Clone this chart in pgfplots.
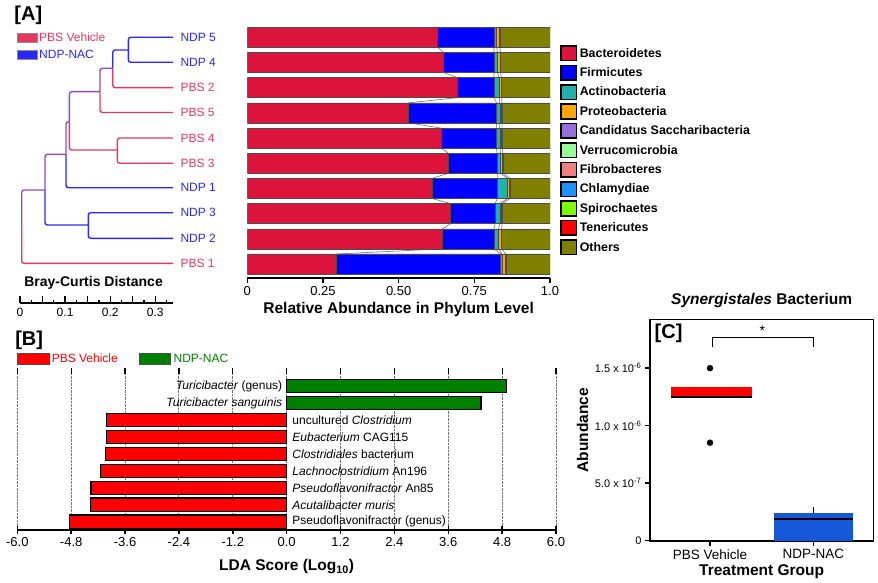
\documentclass[border=0pt]{standalone}
\usepackage{pgfplots}
\pgfplotsset{compat=1.18}
\usepackage{pgfplotstable}
\usepackage{fontspec}
\setmainfont{Liberation Sans}
\newcommand\fs[1]{\fontsize{#1}{#1}\selectfont}
\definecolor{dR}{RGB}{226,58,94}
\definecolor{dB}{RGB}{40,40,250}
\definecolor{dP}{RGB}{150,70,200}
\definecolor{cBact}{RGB}{220,20,60}
\definecolor{cFirm}{RGB}{0,0,255}
\definecolor{cActi}{RGB}{32,178,170}
\definecolor{cProt}{RGB}{255,165,0}
\definecolor{cCand}{RGB}{147,112,219}
\definecolor{cVerr}{RGB}{152,251,152}
\definecolor{cFibr}{RGB}{240,128,128}
\definecolor{cChla}{RGB}{30,144,255}
\definecolor{cSpir}{RGB}{124,252,0}
\definecolor{cTene}{RGB}{255,0,0}
\definecolor{cOthe}{RGB}{128,128,0}
\definecolor{lRed}{RGB}{255,0,0}
\definecolor{lGreen}{RGB}{0,128,0}
\definecolor{bBlue}{RGB}{22,86,217}
\pgfplotsset{
  sqlegend/.style={legend image code/.code={\draw[##1, draw=black, line width=1.6pt, sharp corners] (0pt,-7.3pt) rectangle (15.6pt,7.3pt);}},
  bblegend/.style={legend image code/.code={\draw[##1, draw=black!70, line width=0.8pt, sharp corners] (0pt,-5.5pt) rectangle (31pt,5.5pt);}},
  dlegend/.style={legend image code/.code={\draw[##1, draw=black!45, line width=0.6pt, sharp corners] (0pt,-4.8pt) rectangle (20pt,4.8pt);}},
}
\pgfplotstableread{
y b f a p c v o
10 0.629 0.186 0.009 0.009 0.001 0.001 0.165
9 0.648 0.167 0.011 0.008 0.001 0.001 0.164
8 0.694 0.121 0.017 0.006 0.001 0.001 0.160
7 0.532 0.292 0.010 0.006 0.001 0.001 0.158
6 0.640 0.182 0.012 0.006 0.001 0.001 0.158
5 0.664 0.162 0.011 0.006 0.001 0.001 0.155
4 0.610 0.216 0.034 0.006 0.001 0.001 0.132
3 0.672 0.147 0.015 0.006 0.001 0.001 0.158
2 0.645 0.170 0.015 0.008 0.001 0.001 0.160
1 0.295 0.542 0.004 0.011 0.001 0.001 0.146
}\phylum
\pgfplotstableread{
y b f a o
10.397 .629 .815 .824 .835
9.603 .629 .815 .824 .835
9.397 .648 .815 .826 .836
8.603 .648 .815 .826 .836
8.397 .694 .815 .832 .840
7.603 .694 .815 .832 .840
7.397 .532 .824 .834 .842
6.603 .532 .824 .834 .842
6.397 .640 .822 .834 .842
5.603 .640 .822 .834 .842
5.397 .664 .826 .837 .845
4.603 .664 .826 .837 .845
4.397 .610 .826 .860 .868
3.603 .610 .826 .860 .868
3.397 .672 .819 .834 .842
2.603 .672 .819 .834 .842
2.397 .645 .815 .830 .840
1.603 .645 .815 .830 .840
1.397 .295 .837 .841 .854
0.603 .295 .837 .841 .854
}\flows
\begin{document}
\begin{tikzpicture}
\path[use as bounding box] (0pt,0pt) rectangle (878pt,-583pt);
\node[font=\bfseries\fs{20}] at (28.3pt,-15pt) {[A]};
\node[font=\bfseries\fs{20}] at (29.2pt,-340pt) {[B]};

% ---------- dendrogram ----------
\begin{axis}[at={(0pt,-275pt)}, anchor=south west, scale only axis,
  width=180pt, height=255pt, xmin=0, xmax=180, ymin=-275, ymax=-20,
  axis lines=none, clip=false,
  legend cell align=left,
  legend style={at={(axis description cs:0.094,0.957)}, anchor=north west,
    draw=none, fill=none, inner sep=0pt, row sep=4pt, font=\fs{12},
    nodes={inner sep=1.5pt}},
  every axis plot/.append style={line width=1.4pt, rounded corners=2.5pt}]
\addlegendimage{dlegend, fill=dR}\addlegendentry{\textcolor{dR}{PBS Vehicle}}
\addlegendimage{dlegend, fill=dB}\addlegendentry{\textcolor{dB}{NDP-NAC}}
\addplot[dB] coordinates {(128.3,-50)(128.3,-37.3)(173,-37.3)};
\addplot[dB] coordinates {(128.3,-50)(128.3,-62.3)(173,-62.3)};
\addplot[dB] coordinates {(112.7,-68.3)(112.7,-50)(128.3,-50)};
\addplot[dR] coordinates {(112.7,-68.3)(112.7,-87.7)(173,-87.7)};
\addplot[dP] coordinates {(100,-91.7)(100,-68.3)(112.7,-68.3)};
\addplot[dR] coordinates {(100,-91.7)(100,-112.5)(173,-112.5)};
\addplot[dR] coordinates {(117.3,-150)(117.3,-138)(173,-138)};
\addplot[dR] coordinates {(117.3,-150)(117.3,-163.3)(173,-163.3)};
\addplot[dP] coordinates {(69.3,-121.7)(69.3,-91.7)(100,-91.7)};
\addplot[dR] coordinates {(69.3,-121.7)(69.3,-150)(117.3,-150)};
\addplot[dP] coordinates {(66,-154.3)(66,-121.7)(69.3,-121.7)};
\addplot[dB] coordinates {(66,-154.3)(66,-187.7)(173,-187.7)};
\addplot[dB] coordinates {(88.3,-225)(88.3,-212.7)(173,-212.7)};
\addplot[dB] coordinates {(88.3,-225)(88.3,-238.3)(173,-238.3)};
\addplot[dP] coordinates {(45,-190)(45,-154.3)(66,-154.3)};
\addplot[dB] coordinates {(45,-190)(45,-225)(88.3,-225)};
\addplot[dP] coordinates {(21.7,-226.7)(21.7,-190)(45,-190)};
\addplot[dR] coordinates {(21.7,-226.7)(21.7,-263.3)(173,-263.3)};
\begin{scope}[every node/.style={anchor=west, font=\fs{12}}]
\node[text=dB] at (axis cs:177,-37.3) {NDP 5};
\node[text=dB] at (axis cs:177,-62.3) {NDP 4};
\node[text=dR] at (axis cs:177,-87.7) {PBS 2};
\node[text=dR] at (axis cs:177,-112.5) {PBS 5};
\node[text=dR] at (axis cs:177,-138) {PBS 4};
\node[text=dR] at (axis cs:177,-163.3) {PBS 3};
\node[text=dB] at (axis cs:177,-187.7) {NDP 1};
\node[text=dB] at (axis cs:177,-212.7) {NDP 3};
\node[text=dB] at (axis cs:177,-238.3) {NDP 2};
\node[text=dR] at (axis cs:177,-263.3) {PBS 1};
\end{scope}
\end{axis}

% ---------- Bray-Curtis scale ----------
\begin{axis}[at={(20pt,-303pt)}, anchor=south west, scale only axis,
  width=153.3pt, height=10pt, xmin=0, xmax=0.34, ymin=0, ymax=1,
  axis x line*=bottom, axis y line=none, x axis line style={-, line width=1.6pt},
  xtick={0,0.1,0.2,0.3}, xticklabels={0,0.1,0.2,0.3},
  extra x ticks={0.05,0.15,0.25}, extra x tick labels={},
  minor xtick={0.025,0.075,0.125,0.175,0.225,0.275,0.325},
  tick align=inside, major tick length=7pt, minor tick length=3pt,
  tick style={line width=1.3pt, black},
  xticklabel style={font=\fs{12}, anchor=north, yshift=-1.5pt},
  xlabel={Bray-Curtis Distance},
  xlabel style={font=\bfseries\fs{14}, at={(axis description cs:0.48,2.0)}, anchor=center}]
\end{axis}

% ---------- flow lines ----------
\begin{axis}[at={(247.3pt,-278pt)}, anchor=south west, scale only axis,
  width=302.7pt, height=253.3pt, xmin=0, xmax=1, ymin=0.444, ymax=10.5,
  axis lines=none]
\addplot[black!55, line width=0.6pt] table[x=b, y=y] {\flows};
\addplot[black!55, line width=0.6pt] table[x=f, y=y] {\flows};
\addplot[black!55, line width=0.6pt] table[x=a, y=y] {\flows};
\addplot[black!55, line width=0.6pt] table[x=o, y=y] {\flows};
\end{axis}

% ---------- stacked bars ----------
\begin{axis}[at={(247.3pt,-278pt)}, anchor=south west, scale only axis,
  width=302.7pt, height=253.3pt, xmin=0, xmax=1, ymin=0.444, ymax=10.5,
  xbar stacked, bar width=20pt,
  axis x line*=bottom, axis y line=none, x axis line style={-, line width=2pt},
  xtick={0,0.25,0.5,0.75,1}, xticklabels={0,0.25,0.50,0.75,1.0},
  tick align=outside, major tick length=5pt, tick style={line width=1.5pt, black},
  xticklabel style={font=\fs{13}},
  xlabel={Relative Abundance in Phylum Level},
  xlabel style={font=\bfseries\fs{15.5}, at={(axis description cs:0.5,-0.126)}, anchor=center},
  legend cell align=left,
  legend style={at={(axis description cs:1.033,0.92)}, anchor=north west,
    draw=none, fill=none, inner sep=0pt, row sep=3.2pt, font=\bfseries\fs{12.4},
    nodes={inner sep=2.4pt}},
  every axis plot/.append style={draw=black!70, line width=0.5pt}]
\addplot[fill=cBact, sqlegend] table[x=b, y=y] {\phylum}; \addlegendentry{Bacteroidetes}
\addplot[fill=cFirm, sqlegend] table[x=f, y=y] {\phylum}; \addlegendentry{Firmicutes}
\addplot[fill=cActi, sqlegend] table[x=a, y=y] {\phylum}; \addlegendentry{Actinobacteria}
\addplot[fill=cProt, sqlegend] table[x=p, y=y] {\phylum}; \addlegendentry{Proteobacteria}
\addplot[fill=cCand, sqlegend] table[x=c, y=y] {\phylum}; \addlegendentry{Candidatus Saccharibacteria}
\addplot[fill=cVerr, sqlegend] table[x=v, y=y] {\phylum}; \addlegendentry{Verrucomicrobia}
\addlegendimage{fill=cFibr, sqlegend}\addlegendentry{Fibrobacteres}
\addlegendimage{fill=cChla, sqlegend}\addlegendentry{Chlamydiae}
\addlegendimage{fill=cSpir, sqlegend}\addlegendentry{Spirochaetes}
\addlegendimage{fill=cTene, sqlegend}\addlegendentry{Tenericutes}
\addplot[fill=cOthe, sqlegend] table[x=o, y=y] {\phylum}; \addlegendentry{Others}
\end{axis}

% ---------- LDA ----------
\begin{axis}[at={(17.3pt,-530pt)}, anchor=south west, scale only axis,
  width=538.7pt, height=162pt, xmin=-6, xmax=6, ymin=0.511, ymax=10.06,
  xbar, bar width=13.3pt, bar shift=0pt,
  axis x line*=bottom, axis y line=none, x axis line style={-, line width=2pt},
  xtick={-6,-4.8,-3.6,-2.4,-1.2,0,1.2,2.4,3.6,4.8,6},
  xticklabels={-6.0,-4.8,-3.6,-2.4,-1.2,0.0,1.2,2.4,3.6,4.8,6.0},
  xmajorgrids, grid style={densely dotted, black!55, line width=0.9pt},
  tick align=center, major tick length=8pt, tick style={line width=1.5pt, black},
  xticklabel style={font=\fs{13}},
  xlabel={LDA Score (Log\textsubscript{10})},
  xlabel style={font=\bfseries\fs{15.5}, at={(axis description cs:0.5,-0.2265)}, anchor=center},
  clip=false, unbounded coords=jump,
  legend columns=2,
  legend style={at={(axis description cs:0,1.105)}, anchor=north west,
    draw=none, fill=none, inner sep=0pt, font=\fs{12},
    nodes={inner sep=2.5pt}, /tikz/every odd column/.append style={column sep=0pt},
    /tikz/every even column/.append style={column sep=19pt}}]
\addplot[fill=lRed, draw=black, line width=1.2pt, bblegend] coordinates
  {(-4.01,7) (-4.02,6) (-4.04,5) (-4.14,4) (-4.36,3) (-4.37,2) (-4.83,1)};
\addlegendentry{\textcolor{lRed}{PBS Vehicle}}
\addplot[fill=lGreen, draw=black, line width=1.2pt, bblegend] coordinates
  {(4.90,9) (4.33,8)};
\addlegendentry{\textcolor{lGreen}{NDP-NAC}}
\addplot[black, line width=1.2pt, forget plot, sharp plot] coordinates {
 (-6,10.06)(-6,9.71)(-6,nan)(-4.8,10.06)(-4.8,9.71)(-4.8,nan)(-3.6,10.06)(-3.6,9.71)(-3.6,nan)
 (-2.4,10.06)(-2.4,9.71)(-2.4,nan)(-1.2,10.06)(-1.2,9.71)(-1.2,nan)(0,10.06)(0,9.71)(0,nan)
 (1.2,10.06)(1.2,9.71)(1.2,nan)(2.4,10.06)(2.4,9.71)(2.4,nan)(3.6,10.06)(3.6,9.71)(3.6,nan)
 (4.8,10.06)(4.8,9.71)(4.8,nan)(6,10.06)(6,9.71)};
\begin{scope}[every node/.style={font=\fs{12}}]
\node[anchor=east] at (axis cs:-0.02,9) {\textit{Turicibacter} (genus)};
\node[anchor=east] at (axis cs:-0.02,8) {\textit{Turicibacter sanguinis}};
\node[anchor=west] at (axis cs:0.05,7) {uncultured \textit{Clostridium}};
\node[anchor=west] at (axis cs:0.05,6) {\textit{Eubacterium} CAG115};
\node[anchor=west] at (axis cs:0.05,5) {\textit{Clostridiales} bacterium};
\node[anchor=west] at (axis cs:0.05,4) {\textit{Lachnoclostridium} An196};
\node[anchor=west] at (axis cs:0.05,3) {\textit{Pseudoflavonifractor} An85};
\node[anchor=west] at (axis cs:0.05,2) {\textit{Acutalibacter muris}};
\node[anchor=west] at (axis cs:0.05,1) {Pseudoflavonifractor (genus)};
\end{scope}
\end{axis}

% ---------- Panel C ----------
\begin{axis}[at={(650pt,-540.7pt)}, anchor=south west, scale only axis,
  width=223.3pt, height=221.4pt, xmin=-0.581, xmax=1.581, ymin=0, ymax=19.25,
  axis line style={line width=1.6pt},
  xtick={0,1}, xticklabels={PBS Vehicle,NDP-NAC},
  ytick={0,5,10,15},
  yticklabels={0,5.0 x 10\textsuperscript{-7},1.0 x 10\textsuperscript{-6},1.5 x 10\textsuperscript{-6}},
  xtick pos=bottom, ytick pos=left, tick align=outside, major tick length=5pt,
  tick style={line width=1.5pt, black},
  xticklabel style={font=\fs{13.5}}, yticklabel style={font=\fs{11}},
  xlabel={Treatment Group}, ylabel={Abundance},
  xlabel style={font=\bfseries\fs{15.5}, at={(axis description cs:0.5,-0.14)}, anchor=center},
  ylabel style={font=\bfseries\fs{15.5}, at={(axis description cs:-0.302,0.5)}, anchor=center},
  title={\textit{Synergistales} Bacterium},
  title style={font=\bfseries\fs{15.5}, at={(axis description cs:0.5,1.056)}, anchor=center},
  clip=false]
\addplot[fill=lRed, draw=none] coordinates {(-0.378,12.45)(0.404,12.45)(0.404,13.34)(-0.378,13.34)} -- cycle;
\addplot[black, line width=2.4pt] coordinates {(-0.378,12.5)(0.404,12.5)};
\addplot[fill=bBlue, draw=none] coordinates {(0.615,0)(1.38,0)(1.38,2.43)(0.615,2.43)} -- cycle;
\addplot[black, line width=1.6pt] coordinates {(1,2.43)(1,2.96)};
\addplot[black, line width=2.2pt] coordinates {(0.615,1.89)(1.38,1.89)};
\addplot[only marks, mark=*, mark size=3pt, black] coordinates {(0,15.0)(0,8.52)};
\addplot[black, line width=1.3pt] coordinates {(0.022,16.87)(0.022,17.65)(1.0,17.65)(1.0,16.87)};
\node[font=\fs{14}] at (axis cs:0.506,18.3) {*};
\node[font=\bfseries\fs{20}, anchor=center] at (axis description cs:0.083,0.936) {[C]};
\end{axis}
\end{tikzpicture}
\end{document}
